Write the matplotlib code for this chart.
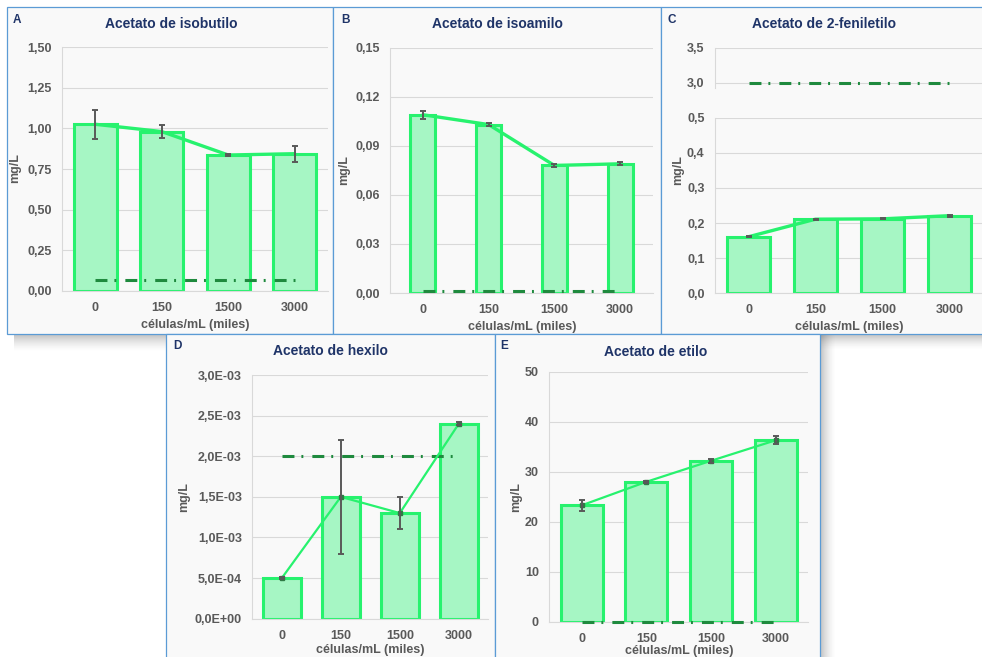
import numpy as np
import matplotlib
matplotlib.use("Agg")
import matplotlib.pyplot as plt
from matplotlib.patches import Rectangle

plt.rcParams['font.family'] = ['Liberation Sans', 'DejaVu Sans']
plt.rcParams['font.weight'] = 'bold'
plt.rcParams['lines.scale_dashes'] = False

# --- data -----------------------------------------------------------------
celulas = ['0', '150', '1500', '3000']

isobutilo = [1.025, 0.98, 0.836, 0.844]
isobutilo_err = [0.09, 0.039, 0.004, 0.049]
isobutilo_umbral = 0.065

isoamilo = [0.109, 0.103, 0.078, 0.079]
isoamilo_err = [0.0025, 0.001, 0.001, 0.001]
isoamilo_umbral = 0.0015

feniletilo = [0.161, 0.211, 0.212, 0.221]
feniletilo_err = [0.002, 0.001, 0.001, 0.003]
feniletilo_umbral = 3.0

hexilo = [0.5e-3, 1.5e-3, 1.3e-3, 2.4e-3]
hexilo_err = [0.01e-3, 0.7e-3, 0.2e-3, 0.02e-3]
hexilo_umbral = 2.0e-3

etilo = [23.3, 28.0, 32.2, 36.3]
etilo_err = [1.1, 0.2, 0.4, 0.77]
etilo_umbral = 0.0

yt_isobutilo = ['0,00', '0,25', '0,50', '0,75', '1,00', '1,25', '1,50']
yt_isoamilo = ['0,00', '0,03', '0,06', '0,09', '0,12', '0,15']
yt_feniletilo_low = ['0,0', '0,1', '0,2', '0,3', '0,4', '0,5']
yt_feniletilo_high = ['3,0', '3,5']
yt_hexilo = ['0,0E+00', '5,0E-04', '1,0E-03', '1,5E-03', '2,0E-03', '2,5E-03', '3,0E-03']
yt_etilo = ['0', '10', '20', '30', '40', '50']

# --- style ----------------------------------------------------------------
W, H = 982, 657
EDGE = '#27f26e'
FILL = '#a6f6c4'
DASH = '#1f8a3e'
GRID = '#d9d9d9'
TXT = '#595959'
NAVY = '#1f3468'
FRAME = '#5b9bd5'
PANEL_BG = '#f9f9f9'


def px_axes(fig, l, t, r, b, **kw):
    return fig.add_axes([l / W, 1 - b / H, (r - l) / W, (b - t) / H], **kw)


def fig_text(fig, x, y, s, **kw):
    fig.text(x / W, 1 - y / H, s, **kw)


def style_axes(ax, ylim, ticks, labels):
    ax.set_facecolor('none')
    ax.set_xlim(-0.5, 3.5)
    ax.set_ylim(*ylim)
    ax.set_yticks(ticks)
    ax.set_yticklabels(labels)
    ax.set_xticks(range(len(celulas)))
    ax.set_xticklabels(celulas)
    ax.tick_params(length=0, pad=7.5, labelcolor=TXT, labelsize=9)
    ax.tick_params(axis='x', pad=8)
    for side in ('top', 'right'):
        ax.spines[side].set_visible(False)
    for side in ('left', 'bottom'):
        ax.spines[side].set_color(GRID)
        ax.spines[side].set_linewidth(0.8)
    ax.grid(axis='y', color=GRID, lw=0.8)
    ax.set_axisbelow(True)


def umbral(ax, y):
    ax.plot([0, 3], [y, y], color=DASH, lw=2.2, dashes=(8.6, 5, 1.4, 6.5),
            dash_capstyle='butt', zorder=3, clip_on=False)


def barras(ax, vals, err, width, thin=False):
    x = np.arange(len(vals))
    ax.bar(x, vals, width, color=FILL, edgecolor=EDGE, linewidth=2.2, zorder=2)
    if thin:
        ax.plot(x, vals, color=EDGE, lw=1.6, marker='s', ms=3.2,
                mfc='#2f7a45', mec='#2f7a45', zorder=4)
    else:
        ax.plot(x, vals, color=EDGE, lw=2.4, zorder=4, solid_capstyle='round')
    ax.errorbar(x, vals, yerr=err, fmt='none', ecolor=TXT, elinewidth=1.4,
                capsize=2, capthick=1.4, zorder=5)


def shadow(bg, x0, x1, y0, y1, along):
    ramp = np.linspace(1, 0, 64) ** 1.5 * 0.35
    if along == 'y':
        a = ramp[:, None] * np.ones((1, 2))
    else:
        a = ramp[None, :] * np.ones((2, 1))
    rgba = np.zeros(a.shape + (4,))
    rgba[..., :3] = 0.3
    rgba[..., 3] = a
    bg.imshow(rgba, extent=(x0, x1, y1, y0), aspect='auto',
              interpolation='bilinear', zorder=0)


fig = plt.figure(figsize=(W / 100, H / 100), dpi=100)
fig.patch.set_facecolor('white')

# page layer: shadows and panel frames in pixel coordinates
bg = fig.add_axes([0, 0, 1, 1], zorder=-5)
bg.axis('off')
shadow(bg, 14, 166, 334, 352, 'y')
shadow(bg, 820, 982, 334, 350, 'y')
shadow(bg, 820, 836, 334, 657, 'x')
for l, t, r, b in [(7, 7, 333, 334), (333, 7, 661, 334), (661, 7, 995, 334),
                   (166, 334, 495, 670), (495, 334, 820, 670)]:
    bg.add_patch(Rectangle((l, t), r - l, b - t, facecolor=PANEL_BG,
                           edgecolor=FRAME, lw=0.9, zorder=1))
bg.set_xlim(0, W)
bg.set_ylim(H, 0)

# A - Acetato de isobutilo
ax = px_axes(fig, 62, 47, 328, 291)
style_axes(ax, (0, 1.5), np.arange(0, 1.51, 0.25), yt_isobutilo)
barras(ax, isobutilo, isobutilo_err, 0.65)
umbral(ax, isobutilo_umbral)
fig_text(fig, 13, 20, 'A', color=NAVY, fontsize=8.5, va='center')
fig_text(fig, 171, 24, 'Acetato de isobutilo', color=NAVY, fontsize=10, ha='center', va='center')
fig_text(fig, 195, 325, 'células/mL (miles)', color=TXT, fontsize=9, ha='center', va='center')
fig_text(fig, 15, 168, 'mg/L', color=TXT, fontsize=9, ha='center', va='center', rotation=90)

# B - Acetato de isoamilo
ax = px_axes(fig, 390, 47.7, 653, 293)
style_axes(ax, (0, 0.15), np.arange(0, 0.151, 0.03), yt_isoamilo)
barras(ax, isoamilo, isoamilo_err, 0.38)
umbral(ax, isoamilo_umbral)
fig_text(fig, 341, 20, 'B', color=NAVY, fontsize=8.5, va='center')
fig_text(fig, 497, 24, 'Acetato de isoamilo', color=NAVY, fontsize=10, ha='center', va='center')
fig_text(fig, 522, 327, 'células/mL (miles)', color=TXT, fontsize=9, ha='center', va='center')
fig_text(fig, 344, 170, 'mg/L', color=TXT, fontsize=9, ha='center', va='center', rotation=90)

# C - Acetato de 2-feniletilo, broken value axis
ax = px_axes(fig, 715, 117.7, 983, 293.3)
style_axes(ax, (0, 0.5), np.arange(0, 0.51, 0.1), yt_feniletilo_low)
barras(ax, feniletilo, feniletilo_err, 0.64)
top = px_axes(fig, 715, 47.7, 983, 88.3)
style_axes(top, (2.92, 3.5), [3.0, 3.5], yt_feniletilo_high)
top.spines['bottom'].set_visible(False)
top.set_xticks([])
umbral(top, feniletilo_umbral)
fig_text(fig, 668, 20, 'C', color=NAVY, fontsize=8.5, va='center')
fig_text(fig, 824, 24, 'Acetato de 2-feniletilo', color=NAVY, fontsize=10, ha='center', va='center')
fig_text(fig, 849, 327, 'células/mL (miles)', color=TXT, fontsize=9, ha='center', va='center')
fig_text(fig, 678, 170, 'mg/L', color=TXT, fontsize=9, ha='center', va='center', rotation=90)

# D - Acetato de hexilo
ax = px_axes(fig, 252.3, 375, 488.3, 618.7)
style_axes(ax, (0, 3e-3), np.arange(0, 3.01e-3, 0.5e-3), yt_hexilo)
umbral(ax, hexilo_umbral)
barras(ax, hexilo, hexilo_err, 0.64, thin=True)
fig_text(fig, 173, 346, 'D', color=NAVY, fontsize=8.5, va='center')
fig_text(fig, 330, 351, 'Acetato de hexilo', color=NAVY, fontsize=10, ha='center', va='center')
fig_text(fig, 370, 650, 'células/mL (miles)', color=TXT, fontsize=9, ha='center', va='center')
fig_text(fig, 184, 497, 'mg/L', color=TXT, fontsize=9, ha='center', va='center', rotation=90)

# E - Acetato de etilo
ax = px_axes(fig, 549.3, 371.7, 808, 622)
style_axes(ax, (0, 50), np.arange(0, 51, 10), yt_etilo)
umbral(ax, etilo_umbral)
barras(ax, etilo, etilo_err, 0.65, thin=True)
fig_text(fig, 500, 346, 'E', color=NAVY, fontsize=8.5, va='center')
fig_text(fig, 656, 352, 'Acetato de etilo', color=NAVY, fontsize=10, ha='center', va='center')
fig_text(fig, 679, 651, 'células/mL (miles)', color=TXT, fontsize=9, ha='center', va='center')
fig_text(fig, 516, 497, 'mg/L', color=TXT, fontsize=9, ha='center', va='center', rotation=90)

fig.savefig('out.png', dpi=100)
